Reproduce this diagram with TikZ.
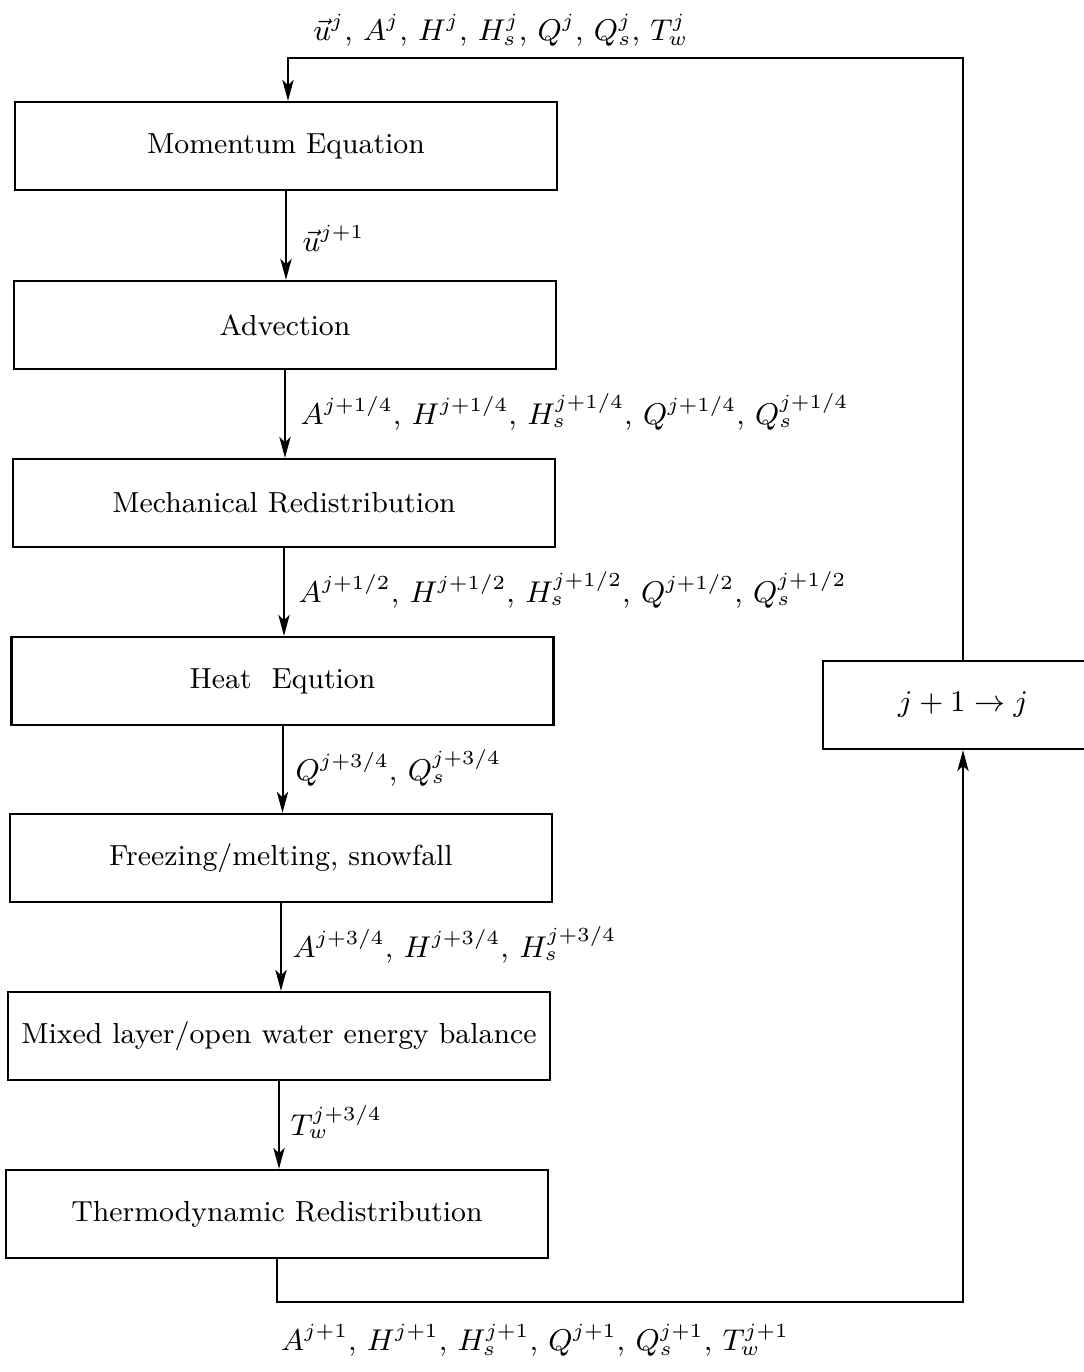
\documentclass[tikz,border=0pt]{standalone}
\usetikzlibrary{arrows.meta}
\begin{document}
\begin{tikzpicture}[x=0.3pt,y=-0.3pt,
  box/.style={draw, line width=0.7pt, minimum width=162.6pt, minimum height=26.4pt, inner sep=0pt, font=\fontsize{8.7}{11}\selectfont},
  mth/.style={inner sep=0pt, font=\fontsize{9}{11}\selectfont},
  lab/.style={mth, anchor=west},
  arr/.style={line width=0.6pt, -{Stealth[length=6.3pt,width=3.4pt,inset=1.6pt]}}]
\useasboundingbox (0,0) rectangle (1084,1372);
\node[box] (b1) at (286,146) {Momentum Equation};
\node[box] (b2) at (285,325) {Advection};
\node[box] (b3) at (284,503) {Mechanical Redistribution};
\node[box] (b4) at (282.5,681) {Heat\ \ Eqution};
\node[box] (b5) at (281,858) {Freezing/melting, snowfall};
\node[box] (b6) at (279,1036) {Mixed layer/open water energy balance};
\node[box] (b7) at (277,1214) {Thermodynamic Redistribution};
\node[box, minimum width=84pt] (jbox) at (963,705) {$j+1\to j$\hspace{5.4pt}};
\coordinate (tl) at (288,58);
\coordinate (bl) at (277,1302);
\draw[arr] (jbox.north) |- (tl) -- (tl |- b1.north);
\draw[arr] (b1.south) -- (b1.south |- b2.north);
\draw[arr] (b2.south) -- (b2.south |- b3.north);
\draw[arr] (b3.south) -- (b3.south |- b4.north);
\draw[arr] (b4.south) -- (b4.south |- b5.north);
\draw[arr] (b5.south) -- (b5.south |- b6.north);
\draw[arr] (b6.south) -- (b6.south |- b7.north);
\draw[arr] (b7.south) -- (bl) -| (jbox.south);
\node[mth] (l0) at (501,30) {$\vec{u}^{j},\, A^{j},\, H^{j},\, H_s^{j},\, Q^{j},\, Q_s^{j},\, T_w^{j}$};
\node[lab] (l1) at (302,238) {$\vec{u}^{j+1}$};
\node[lab] (l2) at (300,412) {$A^{j+1/4},\, H^{j+1/4},\, H_s^{j+1/4},\, Q^{j+1/4},\, Q_s^{j+1/4}$};
\node[lab] (l3) at (298,590) {$A^{j+1/2},\, H^{j+1/2},\, H_s^{j+1/2},\, Q^{j+1/2},\, Q_s^{j+1/2}$};
\node[lab] (l4) at (295,768) {$Q^{j+3/4},\, Q_s^{j+3/4}$};
\node[lab] (l5) at (292,945) {$A^{j+3/4},\, H^{j+3/4},\, H_s^{j+3/4}$};
\node[lab] (l6) at (290,1122) {$T_w^{j+3/4}$};
\node[mth] (l7) at (535,1340) {$A^{j+1},\, H^{j+1},\, H_s^{j+1},\, Q^{j+1},\, Q_s^{j+1},\, T_w^{j+1}$};
\end{tikzpicture}
\end{document}
